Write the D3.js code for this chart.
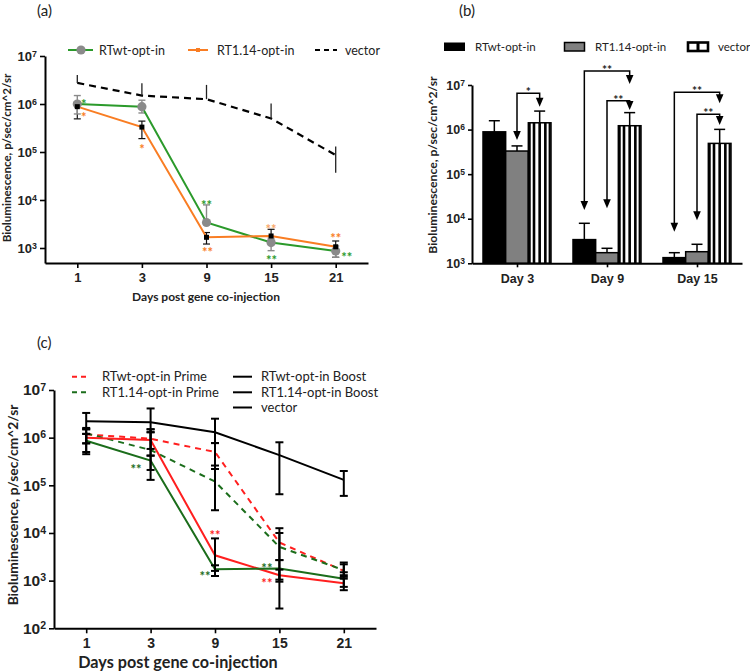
<!DOCTYPE html>
<html>
<head>
<meta charset="utf-8">
<script src="https://cdn.jsdelivr.net/npm/d3@7"></script>
<style>
  body { margin: 0; background: #fff; }
  svg { display: block; font-family: Lato, "Open Sans", sans-serif; }
  .axis .domain { stroke: #000; stroke-width: 2; }
  .axis .tick line { stroke: #000; stroke-width: 1.6; }
  .axis text { fill: #222; font-weight: bold; }
</style>
</head>
<body>
<svg id="chart" width="750" height="671"></svg>
<script>
// --- DATA ---
const days = ["1", "3", "9", "15", "21"];
const decades = [1e3, 1e4, 1e5, 1e6, 1e7];

// panel (a)
const aWt = [1.0e6, 8.8e5, 3.4e3, 1.3e3, 8.7e2];
const aWtLo = [6.2e5, 6.5e5, null, 8.8e2, 6.4e2];
const aWtHi = [1.5e6, 1.2e6, 7.9e3, 1.6e3, 1.1e3];
const a114 = [8.8e5, 3.3e5, 1.67e3, 1.78e3, 1.06e3];
const a114Lo = [4.9e5, 1.9e5, 1.21e3, 1.3e3, 6.4e2];
const a114Hi = [1.1e6, 4.4e5, 2.1e3, 2.45e3, 1.4e3];
const aVec = [2.75e6, 1.5e6, 1.26e6, 5.0e5, 8.6e4];
const aVecHi = [4.0e6, 2.7e6, 2.5e6, 1.03e6, 1.3e5];
const aVecLo = [null, null, null, null, 3.7e4];

// panel (b)
const groups = ["Day 3", "Day 9", "Day 15"];
const barSeries = ["RTwt-opt-in", "RT1.14-opt-in", "vector"];
const bWt = [8.9e5, 3.4e3, 1.34e3];
const bWtErr = [1.58e6, 7.9e3, 1.73e3];
const b114 = [3.3e5, 1.73e3, 1.82e3];
const b114Err = [4.3e5, 2.17e3, 2.67e3];
const bVec = [1.42e6, 1.22e6, 4.9e5];
const bVecErr = [2.6e6, 2.4e6, 1.01e6];
// significance brackets: group, from-series index, to vector, bracket level, arrow tips
const sigB = [
  { g: "Day 3", from: 1, top: 6.5e6, tipFrom: 5.8e5, tipTo: 3.26e6, label: "*" },
  { g: "Day 9", from: 0, top: 2.06e7, tipFrom: 1.57e4, tipTo: 1.05e7, label: "**" },
  { g: "Day 9", from: 1, top: 4.45e6, tipFrom: 1.71e4, tipTo: 2.75e6, label: "**" },
  { g: "Day 15", from: 0, top: 6.87e6, tipFrom: 5.1e3, tipTo: 3.9e6, label: "**" },
  { g: "Day 15", from: 1, top: 2.2e6, tipFrom: 9.3e3, tipTo: 1.27e6, label: "**" }
];

// panel (c)
const cWtPrime = [1.17e6, 9.5e5, 5.0e5, 6.3e3, 1.6e3];
const cWtPrimeLo = [7.6e5, 5.8e5, 2.2e5, 2.6e2, 1.2e3];
const cWtPrimeHi = [1.5e6, 1.5e6, 7.7e5, 1.26e4, 2.2e3];
const c114Prime = [1.23e6, 5.5e5, 1.2e5, 5.1e3, 1.66e3];
const c114PrimeLo = [7.6e5, 2.1e5, 3.0e4, 2.7e3, 1.3e3];
const c114PrimeHi = [1.6e6, 1.3e6, 2.6e5, 1.0e4, 2.4e3];
const cWtBoost = [1.0e6, 8.9e5, 3.4e3, 1.3e3, 8.8e2];
const cWtBoostLo = [5.0e5, 4.2e5, 1.6e3, 9.5e2, 7.4e2];
const cWtBoostHi = [1.2e6, 1.5e6, 7.7e3, 1.7e3, 1.1e3];
const c114Boost = [8.6e5, 3.3e5, 1.73e3, 1.8e3, 1.1e3];
const c114BoostLo = [4.5e5, 1.3e5, 1.25e3, 1.05e3, 6.3e2];
const c114BoostHi = [1.2e6, 4.2e5, 2.1e3, 2.7e3, 1.5e3];
const cVec = [2.2e6, 2.1e6, 1.3e6, 4.3e5, 1.3e5];
const cVecLo = [1.5e6, 1.3e6, 7.7e5, 6.5e4, 6.0e4];
const cVecHi = [3.3e6, 4.1e6, 2.5e6, 8.0e5, 2.0e5];

// star annotations (day, value where the stars sit, x shift)
const starsA = [
  { day: "1", v: 1.15e6, dx: 6.5, t: "*", c: "green" },
  { day: "1", v: 6.3e5, dx: 6.5, t: "*", c: "orange" },
  { day: "3", v: 1.33e5, dx: 0, t: "*", c: "orange" },
  { day: "9", v: 9.2e3, dx: 0, t: "**", c: "green" },
  { day: "9", v: 940, dx: 1, t: "**", c: "orange" },
  { day: "15", v: 2.87e3, dx: 0, t: "**", c: "lightorange" },
  { day: "15", v: 660, dx: 0.5, t: "**", c: "green" },
  { day: "21", v: 1.86e3, dx: 0, t: "**", c: "orange" },
  { day: "21", v: 750, dx: 11, t: "**", c: "green" }
];
const starsC = [
  { day: "3", v: 2.54e5, dx: -14.5, t: "**", c: "dkgreen" },
  { day: "9", v: 1.03e4, dx: 0, t: "**", c: "red" },
  { day: "9", v: 1.43e3, dx: -10, t: "**", c: "dkgreen" },
  { day: "15", v: 2.13e3, dx: -12.5, t: "**", c: "dkgreen" },
  { day: "15", v: 1.03e3, dx: -12.5, t: "**", c: "red" }
];

// --- CONFIGURATION ---
const COL = {
  green: "#2b9a2b", orange: "#f97d23", lightorange: "#f9a768", grey: "#8a8a8a",
  red: "#ff1f1f", dkgreen: "#1b6d1b", bar: "#808080"
};

const svg = d3.select("#chart");
svg.append("rect").attr("width", 750).attr("height", 671).attr("fill", "#fff");

// --- HELPERS ---
function powLabels(sel, size) {
  sel.selectAll(".tick text").text(null).attr("font-size", size).each(function(d) {
    const t = d3.select(this);
    t.append("tspan").text("10");
    t.append("tspan").attr("dy", "-0.45em").attr("font-size", size * 0.68)
      .text(Math.round(Math.log10(d)));
  });
}

function errBars(g, x, y, vals, lo, hi, color, cap, width) {
  vals.forEach((v, i) => {
    const cx = x(days[i]);
    const top = hi[i] != null ? hi[i] : v;
    const bot = lo[i] != null ? lo[i] : v;
    g.append("line").attr("x1", cx).attr("x2", cx).attr("y1", y(top)).attr("y2", y(bot))
      .attr("stroke", color).attr("stroke-width", width);
    [hi[i], lo[i]].forEach(e => {
      if (e == null || !cap) return;
      g.append("line").attr("x1", cx - cap).attr("x2", cx + cap).attr("y1", y(e)).attr("y2", y(e))
        .attr("stroke", color).attr("stroke-width", width);
    });
  });
}

function stars(g, x, y, list, size) {
  g.selectAll(null).data(list).join("text")
    .attr("x", d => x(d.day) + d.dx).attr("y", d => y(d.v))
    .attr("dy", "0.62em").attr("text-anchor", "middle")
    .attr("font-size", size).attr("font-weight", "bold")
    .attr("fill", d => COL[d.c]).text(d => d.t);
}

function panelLabel(x, y, t) {
  svg.append("text").attr("x", x).attr("y", y).attr("font-size", 15).attr("fill", "#222").text(t);
}

// --- PANEL (a) ---
{
  const g = svg.append("g");
  const x = d3.scalePoint().domain(days).range([45, 368]).padding(0.5);
  const y = d3.scaleLog().domain([486.9, 1e7]).range([263, 56]);

  g.append("g").attr("class", "axis").attr("transform", "translate(0,263)")
    .call(d3.axisBottom(x).tickSize(5).tickSizeOuter(0).tickPadding(5))
    .call(s => s.selectAll("text").attr("font-size", 13));
  g.append("g").attr("class", "axis").attr("transform", "translate(45,0)")
    .call(d3.axisLeft(y).tickValues(decades).tickSize(5).tickSizeOuter(0).tickPadding(3))
    .call(s => powLabels(s, 13));

  const line = d3.line().x((d, i) => x(days[i])).y(d => y(d));

  // vector
  g.append("path").attr("d", line(aVec)).attr("fill", "none").attr("stroke", "#000")
    .attr("stroke-width", 2.2).attr("stroke-dasharray", "7,5");
  errBars(g, x, y, aVec, aVecLo, aVecHi, "#222", 0, 1.3);
  // error bars of the two RT series
  errBars(g, x, y, a114, a114Lo, a114Hi, "#111", 3.5, 1.2);
  errBars(g, x, y, aWt, aWtLo, aWtHi, COL.grey, 3.5, 1.4);

  g.append("path").attr("d", line(aWt)).attr("fill", "none").attr("stroke", COL.green).attr("stroke-width", 2);
  g.append("path").attr("d", line(a114)).attr("fill", "none").attr("stroke", COL.orange).attr("stroke-width", 2);

  g.selectAll(null).data(aWt).join("circle")
    .attr("cx", (d, i) => x(days[i])).attr("cy", d => y(d)).attr("r", 4.6).attr("fill", COL.grey);
  g.selectAll(null).data(a114).join("rect")
    .attr("x", (d, i) => x(days[i]) - 2.5).attr("y", d => y(d) - 2.5)
    .attr("width", 5).attr("height", 5).attr("fill", "#000");

  stars(g, x, y, starsA, 13);

  g.append("text").attr("x", 206).attr("y", 301).attr("text-anchor", "middle")
    .attr("font-size", 12).attr("font-weight", "bold").attr("fill", "#222")
    .text("Days post gene co-injection");
  g.append("text").attr("transform", "translate(6.5,158) rotate(-90)").attr("dy", "0.35em")
    .attr("text-anchor", "middle").attr("font-size", 11.6).attr("font-weight", "bold").attr("fill", "#222")
    .text("Bioluminescence, p/sec/cm^2/sr");

  // legend
  const lg = g.append("g").attr("font-size", 12.5).attr("fill", "#222");
  lg.append("line").attr("x1", 68).attr("x2", 93).attr("y1", 50).attr("y2", 50).attr("stroke", COL.green).attr("stroke-width", 2);
  lg.append("circle").attr("cx", 81).attr("cy", 50).attr("r", 4.6).attr("fill", COL.grey);
  lg.append("text").attr("x", 99).attr("y", 54.5).text("RTwt-opt-in");
  lg.append("line").attr("x1", 188).attr("x2", 208).attr("y1", 50).attr("y2", 50).attr("stroke", COL.orange).attr("stroke-width", 2);
  lg.append("rect").attr("x", 196).attr("y", 48).attr("width", 4).attr("height", 4).attr("fill", COL.orange);
  lg.append("text").attr("x", 217).attr("y", 54.5).text("RT1.14-opt-in");
  lg.append("line").attr("x1", 315).attr("x2", 337).attr("y1", 50).attr("y2", 50).attr("stroke", "#000")
    .attr("stroke-width", 2.2).attr("stroke-dasharray", "5,4");
  lg.append("text").attr("x", 345).attr("y", 54.5).text("vector");

  panelLabel(37, 16, "(a)");
}

// --- PANEL (b) ---
{
  const g = svg.append("g");
  const x = d3.scalePoint().domain(groups).range([472, 742]).padding(0.5);
  const xs = d3.scaleBand().domain(barSeries).range([-34, 34]);
  const y = d3.scaleLog().domain([1e3, 1e7]).range([263.3, 85]);
  const vals = [bWt, b114, bVec];
  const errs = [bWtErr, b114Err, bVecErr];

  const rows = [];
  groups.forEach((gr, gi) => barSeries.forEach((s, si) =>
    rows.push({ gr, s, si, v: vals[si][gi], e: errs[si][gi] })));

  const bx = d => x(d.gr) + xs(d.s);
  const w = xs.bandwidth();

  // error bars (upper only)
  rows.forEach(d => {
    const cx = bx(d) + w / 2;
    g.append("line").attr("x1", cx).attr("x2", cx).attr("y1", y(d.v)).attr("y2", y(d.e))
      .attr("stroke", "#000").attr("stroke-width", 1.5);
    g.append("line").attr("x1", cx - 5.5).attr("x2", cx + 5.5).attr("y1", y(d.e)).attr("y2", y(d.e))
      .attr("stroke", "#000").attr("stroke-width", 1.5);
  });

  g.selectAll(null).data(rows).join("rect")
    .attr("x", bx).attr("y", d => y(d.v)).attr("width", w).attr("height", d => y(1e3) - y(d.v))
    .attr("fill", d => d.si === 0 ? "#000" : d.si === 1 ? COL.bar : "#fff")
    .attr("stroke", "#000").attr("stroke-width", 1.5);
  // stripes of the vector bars
  rows.filter(d => d.si === 2).forEach(d => {
    [1, 2, 3].forEach(k => {
      g.append("rect").attr("x", bx(d) + k * w / 4 - 1.3).attr("y", y(d.v))
        .attr("width", 2.6).attr("height", y(1e3) - y(d.v)).attr("fill", "#000");
    });
    g.append("rect").attr("x", bx(d) + 0.2).attr("y", y(d.v)).attr("width", 2.2)
      .attr("height", y(1e3) - y(d.v)).attr("fill", "#000");
    g.append("rect").attr("x", bx(d) + w - 2.4).attr("y", y(d.v)).attr("width", 2.2)
      .attr("height", y(1e3) - y(d.v)).attr("fill", "#000");
  });

  g.append("g").attr("class", "axis").attr("transform", "translate(0,263.3)")
    .call(d3.axisBottom(x).tickSize(4).tickSizeOuter(0).tickPadding(7))
    .call(s => s.selectAll("text").attr("font-size", 12.5));
  g.append("g").attr("class", "axis").attr("transform", "translate(472,0)")
    .call(d3.axisLeft(y).tickValues(decades).tickSize(4).tickSizeOuter(0).tickPadding(3))
    .call(s => powLabels(s, 12.5))
    .call(s => s.select(".domain").attr("stroke-width", 1.6));

  // significance arrows
  const head = (cx, ty) => `M${cx - 3.8},${ty - 9}L${cx + 3.8},${ty - 9}L${cx},${ty}Z`;
  sigB.forEach(d => {
    const xl = x(d.g) + xs(barSeries[d.from]) + w / 2;
    const xr = x(d.g) + xs("vector") + w / 2;
    const yt = y(d.top);
    g.append("path")
      .attr("d", `M${xl},${y(d.tipFrom) - 8}V${yt}H${xr}V${y(d.tipTo) - 8}`)
      .attr("fill", "none").attr("stroke", "#000").attr("stroke-width", 1.5);
    g.append("path").attr("d", head(xl, y(d.tipFrom))).attr("fill", "#000");
    g.append("path").attr("d", head(xr, y(d.tipTo))).attr("fill", "#000");
    g.append("text").attr("x", (xl + xr) / 2).attr("y", yt - 4.5).attr("dy", "0.62em")
      .attr("text-anchor", "middle").attr("font-size", 12).attr("font-weight", "bold")
      .attr("fill", "#222").text(d.label);
  });

  g.append("text").attr("transform", "translate(433,165) rotate(-90)").attr("dy", "0.35em")
    .attr("text-anchor", "middle").attr("font-size", 12.2).attr("font-weight", "bold").attr("fill", "#222")
    .text("Bioluminescence, p/sec/cm^2/sr");

  // legend
  const lg = g.append("g").attr("font-size", 11.5).attr("fill", "#222");
  lg.append("rect").attr("x", 444).attr("y", 42.5).attr("width", 21).attr("height", 8.5).attr("fill", "#000");
  lg.append("text").attr("x", 475).attr("y", 51).text(barSeries[0]);
  lg.append("rect").attr("x", 564.5).attr("y", 42.5).attr("width", 20).attr("height", 8.5)
    .attr("fill", COL.bar).attr("stroke", "#000").attr("stroke-width", 1.5);
  lg.append("text").attr("x", 595).attr("y", 51).text(barSeries[1]);
  lg.append("rect").attr("x", 688).attr("y", 42.5).attr("width", 20).attr("height", 8.5)
    .attr("fill", "#fff").attr("stroke", "#000").attr("stroke-width", 2.6);
  lg.append("rect").attr("x", 696.5).attr("y", 42.5).attr("width", 3).attr("height", 8.5).attr("fill", "#000");
  lg.append("text").attr("x", 718).attr("y", 51).text(barSeries[2]);

  panelLabel(459, 16, "(b)");
}

// --- PANEL (c) ---
{
  const g = svg.append("g");
  const x = d3.scalePoint().domain(days).range([54, 376]).padding(0.5);
  const y = d3.scaleLog().domain([1e2, 1e7]).range([628.3, 390]);

  g.append("g").attr("class", "axis").attr("transform", "translate(0,628.3)")
    .call(d3.axisBottom(x).tickSize(5).tickSizeOuter(0).tickPadding(5))
    .call(s => s.selectAll("text").attr("font-size", 14));
  g.append("g").attr("class", "axis").attr("transform", "translate(54,0)")
    .call(d3.axisLeft(y).tickValues([1e2].concat(decades)).tickSize(5).tickSizeOuter(0).tickPadding(3))
    .call(s => powLabels(s, 15.5));

  const line = d3.line().x((d, i) => x(days[i])).y(d => y(d));
  const series = [
    { v: cVec, c: "#000", dash: null },
    { v: cWtPrime, c: COL.red, dash: "6,5" },
    { v: c114Prime, c: COL.dkgreen, dash: "6,5" },
    { v: cWtBoost, c: COL.red, dash: null },
    { v: c114Boost, c: COL.dkgreen, dash: null }
  ];
  series.forEach(s => {
    g.append("path").attr("d", line(s.v)).attr("fill", "none").attr("stroke", s.c)
      .attr("stroke-width", 2).attr("stroke-dasharray", s.dash);
  });

  errBars(g, x, y, cVec, cVecLo, cVecHi, "#000", 4, 2);
  errBars(g, x, y, cWtPrime, cWtPrimeLo, cWtPrimeHi, "#000", 4, 2);
  errBars(g, x, y, c114Prime, c114PrimeLo, c114PrimeHi, "#000", 4, 2);
  errBars(g, x, y, cWtBoost, cWtBoostLo, cWtBoostHi, "#000", 4, 2);
  errBars(g, x, y, c114Boost, c114BoostLo, c114BoostHi, "#000", 4, 2);

  stars(g, x, y, starsC, 13);

  g.append("text").attr("x", 178).attr("y", 668).attr("text-anchor", "middle")
    .attr("font-size", 16.2).attr("font-weight", "bold").attr("fill", "#222")
    .text("Days post gene co-injection");
  g.append("text").attr("transform", "translate(13,505) rotate(-90)").attr("dy", "0.35em")
    .attr("text-anchor", "middle").attr("font-size", 13.8).attr("font-weight", "bold").attr("fill", "#222")
    .text("Bioluminescence, p/sec/cm^2/sr");

  // legend
  const items = [
    { col: 0, row: 0, c: COL.red, dash: "5,4", t: "RTwt-opt-in Prime" },
    { col: 0, row: 1, c: COL.dkgreen, dash: "5,4", t: "RT1.14-opt-in Prime" },
    { col: 1, row: 0, c: "#000", dash: null, t: "RTwt-opt-in Boost" },
    { col: 1, row: 1, c: "#000", dash: null, t: "RT1.14-opt-in Boost" },
    { col: 1, row: 2, c: "#000", dash: null, t: "vector" }
  ];
  const lx = [[72, 90, 102], [233, 252, 261]];
  const ly = [376.7, 392.3, 407.5];
  items.forEach(d => {
    const [a, b, tx] = lx[d.col];
    g.append("line").attr("x1", a).attr("x2", b).attr("y1", ly[d.row]).attr("y2", ly[d.row])
      .attr("stroke", d.c).attr("stroke-width", 2).attr("stroke-dasharray", d.dash);
    g.append("text").attr("x", tx).attr("y", ly[d.row] + 4.5).attr("font-size", 13)
      .attr("fill", "#222").text(d.t);
  });

  panelLabel(37, 348, "(c)");
}
</script>
</body>
</html>
